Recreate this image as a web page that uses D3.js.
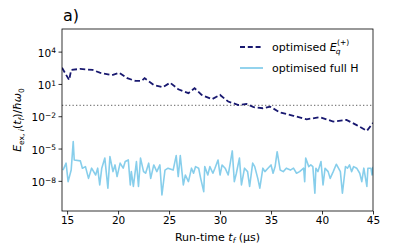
<!DOCTYPE html>
<html>
<head>
<meta charset="utf-8">
<script src="https://cdn.jsdelivr.net/npm/d3@7/dist/d3.min.js"></script>
<style>
  body { margin: 0; background: #fff; }
  svg { font-family: "DejaVu Sans", sans-serif; }
</style>
</head>
<body>
<div id="chart"></div>
<script>
// run-time (µs) and excitation energy for the E_q^(+) optimised pulse
const eqTimes = [14.5, 15.2, 15.4, 16.3, 17.5, 18.2, 19.4, 20.1, 20.9, 21.7, 22.3, 22.6,
  23.5, 24.4, 25.1, 25.9, 26.9, 27.5, 28.2, 29.2, 30.0, 30.8, 31.8, 32.6, 33.3, 34.2,
  34.9, 35.9, 37.2, 38.5, 39.8, 41.1, 42.4, 43.4, 44.4, 45.0];
const eqValues = [3.2e2, 2.3e1, 2.0e2, 2.5e2, 2.0e2, 1.1e2, 6.5e1, 1.1e2, 3.4e1, 1.9e1, 1.9e1, 3.4e1,
  8.1, 4.9, 13, 3.2, 1.4, 4.0, 0.95, 0.38, 0.95, 0.23, 0.11, 0.14, 0.069, 0.055,
  0.078, 0.022, 0.011, 0.0052, 0.0081, 0.0032, 0.0046, 0.0015, 0.00044, 0.0024];

// run-time (µs) and excitation energy for the full-H optimised pulse
const fullTimes = [14.6, 14.9, 15.1, 15.4, 15.6, 15.7, 16.3, 16.5, 16.8, 17.1, 17.4, 17.8, 18.0,
  18.2, 18.4, 18.7, 19.0, 19.2, 19.5, 19.7, 19.9, 20.2, 20.5, 20.7, 21.0, 21.2, 21.3, 21.5,
  21.8, 22.0, 22.2, 22.5, 22.7, 23.0, 23.2, 23.5, 23.8, 24.1, 24.3, 24.6, 24.9, 25.4, 25.7,
  25.9, 26.1, 26.4, 26.6, 26.9, 27.2, 27.4, 27.6, 27.9, 28.1, 28.4, 28.5, 28.8, 29.0, 29.3,
  29.5, 29.8, 30.0, 30.2, 30.5, 30.8, 31.0, 31.2, 31.4, 31.6, 31.9, 32.1, 32.4, 32.7, 32.9,
  33.2, 33.4, 33.7, 33.9, 34.2, 34.4, 34.7, 35.0, 35.2, 35.4, 35.6, 35.9, 36.2, 36.5, 36.9,
  37.2, 37.5, 37.8, 38.2, 38.3, 38.4, 38.7, 38.9, 39.1, 39.3, 39.4, 39.6, 39.9, 40.1, 40.3,
  40.6, 40.8, 41.1, 41.4, 41.8, 42.0, 42.3, 42.5, 42.7, 42.9, 43.1, 43.4, 43.7, 43.9, 44.1,
  44.4, 44.5, 44.8, 44.9, 45.0];
const fullValues = [1.0e-7, 4.4e-7, 8.5e-9, 1.0e-7, 4.4e-5, 8.7e-7, 7.1e-7, 1.5e-7, 2.1e-7, 1.7e-8, 1.5e-7, 3.5e-8, 1.5e-7,
  4.2e-9, 1.5e-7, 1.3e-6, 2.1e-9, 1.8e-6, 7.2e-8, 3.0e-7, 2.5e-8, 4.4e-7, 1.5e-7, 6.2e-7, 8.7e-7, 4.2e-9, 7.2e-8, 3.0e-9,
  6.2e-7, 3.0e-9, 1.3e-6, 7.2e-8, 5.1e-8, 4.4e-7, 1.7e-8, 3.0e-7, 7.2e-8, 3.0e-7, 4.9e-10, 1.0e-7, 1.5e-7, 1.0e-7, 2.2e-6,
  2.5e-8, 2.2e-6, 4.2e-9, 3.5e-8, 8.5e-9, 1.5e-7, 5.1e-8, 2.1e-7, 1.5e-7, 1.7e-8, 1.0e-9, 2.1e-7, 3.5e-8, 2.1e-7, 5.1e-8,
  1.5e-7, 8.7e-7, 3.5e-8, 3.0e-7, 1.5e-7, 3.5e-8, 4.4e-7, 6.0e-6, 8.5e-9, 5.1e-8, 1.3e-6, 4.2e-9, 1.5e-7, 7.2e-8, 3.0e-9,
  4.4e-7, 2.1e-7, 1.7e-8, 2.1e-9, 1.5e-7, 7.2e-8, 1.5e-7, 3.0e-7, 5.1e-8, 2.1e-7, 5.1e-6, 1.0e-7, 7.2e-8, 1.5e-7, 1.0e-7,
  1.5e-7, 5.1e-8, 7.2e-8, 1.5e-7, 8.5e-9, 1.3e-6, 2.1e-7, 3.0e-7, 2.1e-7, 7.1e-10, 1.5e-7, 7.2e-8, 6.2e-7, 4.2e-9, 1.5e-7,
  7.2e-8, 1.7e-8, 7.2e-8, 3.5e-7, 7.2e-8, 7.1e-10, 2.1e-7, 1.5e-7, 3.0e-7, 7.2e-8, 2.1e-7, 1.5e-7, 5.1e-8, 8.5e-9, 1.5e-7,
  3.0e-9, 1.5e-7, 1.5e-7, 3.5e-8, 2.0e-7];

const threshold = 0.1;

const xTicks = [15, 20, 25, 30, 35, 40, 45];
const yTickExps = [-8, -5, -2, 1, 4];

const width = 415, height = 249;
const mLeft = 62, mRight = 373, mTop = 29, mBottom = 211;

const svg = d3.select("#chart").append("svg")
  .attr("width", width)
  .attr("height", height);

const x = d3.scaleLinear().domain([14.5, 45]).range([mLeft, mRight]);
const y = d3.scaleLog().domain([Math.pow(10, -10.8), Math.pow(10, 6.1)]).range([mBottom, mTop]);

svg.append("clipPath").attr("id", "plot")
  .append("rect")
  .attr("x", mLeft).attr("y", mTop)
  .attr("width", mRight - mLeft).attr("height", mBottom - mTop);

const plot = svg.append("g").attr("clip-path", "url(#plot)");

// dotted threshold
plot.append("line")
  .attr("x1", mLeft).attr("x2", mRight)
  .attr("y1", y(threshold)).attr("y2", y(threshold))
  .attr("stroke", "#808080")
  .attr("stroke-width", 1.3)
  .attr("stroke-dasharray", "1.3,2.2");

const line = d3.line().x(d => x(d[0])).y(d => y(d[1]));

plot.append("path")
  .datum(d3.zip(fullTimes, fullValues))
  .attr("d", line)
  .attr("fill", "none")
  .attr("stroke", "#87ceeb")
  .attr("stroke-width", 1.6)
  .attr("stroke-linejoin", "round");

plot.append("path")
  .datum(d3.zip(eqTimes, eqValues))
  .attr("d", line)
  .attr("fill", "none")
  .attr("stroke", "#191970")
  .attr("stroke-width", 1.8)
  .attr("stroke-dasharray", "5.5,2.8");

// axes
const xAxis = svg.append("g")
  .attr("transform", `translate(0,${mBottom})`)
  .call(d3.axisBottom(x).tickValues(xTicks).tickSize(3.5).tickPadding(2.5).tickFormat(d3.format("d")));

const yAxis = svg.append("g")
  .attr("transform", `translate(${mLeft},0)`)
  .call(d3.axisLeft(y).tickValues(yTickExps.map(e => Math.pow(10, e))).tickSize(3.5).tickPadding(2.5).tickFormat(""));

[xAxis, yAxis].forEach(a => {
  a.select(".domain").remove();
  a.selectAll(".tick line").attr("stroke", "#000").attr("stroke-width", 0.8);
  a.selectAll("text").attr("fill", "#000").style("font-size", "10.5px")
    .style("font-family", "'DejaVu Sans', sans-serif");
});

yAxis.selectAll(".tick").each(function (d) {
  const t = d3.select(this).select("text");
  const e = Math.round(Math.log10(d));
  t.text(null).attr("dy", "0.45em");
  t.append("tspan").text("10");
  t.append("tspan").attr("dy", "-0.45em").style("font-size", "7.5px")
    .text(e < 0 ? "\u2212" + (-e) : e);
});

// frame
svg.append("rect")
  .attr("x", mLeft).attr("y", mTop)
  .attr("width", mRight - mLeft).attr("height", mBottom - mTop)
  .attr("fill", "none").attr("stroke", "#000").attr("stroke-width", 0.8);

// title
svg.append("text")
  .attr("x", mLeft + 1).attr("y", 21)
  .style("font-size", "16px")
  .text("a)");

// x label
const xl = svg.append("text")
  .attr("x", (mLeft + mRight) / 2).attr("y", 241)
  .attr("text-anchor", "middle")
  .style("font-size", "11px");
xl.append("tspan").text("Run-time ");
xl.append("tspan").style("font-style", "italic").text("t");
xl.append("tspan").attr("dy", "2").style("font-size", "7.5px").style("font-style", "italic").text("f");
xl.append("tspan").attr("dy", "-2").text(" (\u00b5s)");

// y label
const yl = svg.append("text")
  .attr("transform", `translate(21,${(mTop + mBottom) / 2}) rotate(-90)`)
  .attr("text-anchor", "middle")
  .style("font-size", "11px");
yl.append("tspan").style("font-style", "italic").text("E");
yl.append("tspan").attr("dy", "2.5").style("font-size", "7.5px").text("ex, ");
yl.append("tspan").style("font-size", "7.5px").style("font-style", "italic").text("i");
yl.append("tspan").attr("dy", "-2.5").text("(");
yl.append("tspan").style("font-style", "italic").text("t");
yl.append("tspan").attr("dy", "2.5").style("font-size", "7.5px").style("font-style", "italic").text("f");
yl.append("tspan").attr("dy", "-2.5").text(")/");
yl.append("tspan").style("font-style", "italic").text("\u0127\u03c9");
yl.append("tspan").attr("dy", "2.5").style("font-size", "7.5px").text("0");

// legend
const legend = svg.append("g");
const legendItems = [
  { color: "#191970", dash: "5,2.8", width: 1.8, y: 47 },
  { color: "#87ceeb", dash: null, width: 1.8, y: 68 }
];
legendItems.forEach(it => {
  legend.append("line")
    .attr("x1", 240).attr("x2", 263)
    .attr("y1", it.y).attr("y2", it.y)
    .attr("stroke", it.color)
    .attr("stroke-width", it.width)
    .attr("stroke-dasharray", it.dash);
});
const l1 = legend.append("text").attr("x", 272).attr("y", 50.5).style("font-size", "11px");
l1.append("tspan").text("optimised ");
l1.append("tspan").style("font-style", "italic").text("E");
l1.append("tspan").attr("dy", "3").attr("dx", "-1").style("font-size", "7.5px").style("font-style", "italic").text("q");
l1.append("tspan").attr("dy", "-8.5").attr("dx", "-3.5").style("font-size", "7.5px").text("(+)");
legend.append("text").attr("x", 272).attr("y", 71.5).style("font-size", "11px").text("optimised full H");
</script>
</body>
</html>
